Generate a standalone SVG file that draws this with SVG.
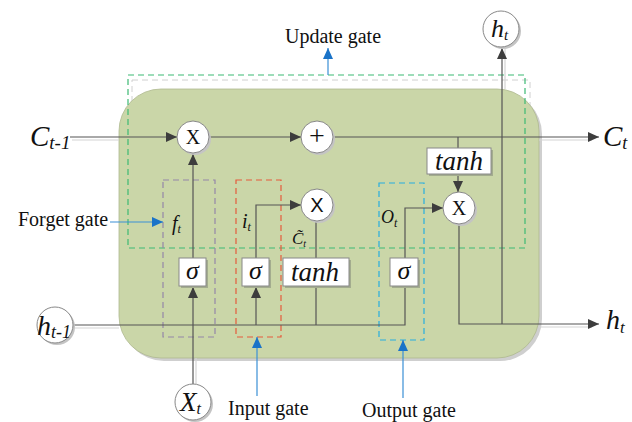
<svg xmlns="http://www.w3.org/2000/svg" width="632" height="422" viewBox="0 0 632 422">
<defs>
<marker id="ah" markerUnits="userSpaceOnUse" markerWidth="11" markerHeight="10" refX="11" refY="5" orient="auto"><path d="M0,0 L11,5 L0,10 z" fill="#3d3d3d"/></marker>
<marker id="bh" markerUnits="userSpaceOnUse" markerWidth="11" markerHeight="10" refX="11" refY="5" orient="auto"><path d="M0,0 L11,5 L0,10 z" fill="#1a73c8"/></marker>
<style>
.ln{fill:none;stroke:#555;stroke-width:1.2}
.sh{fill:none;stroke:#d4d4d4;stroke-width:1.2}
.bl{fill:none;stroke:#3a8fd6;stroke-width:1.2}
.lbl{font-family:"Liberation Serif",serif;font-size:20px;fill:#111}
.it{font-family:"Liberation Serif",serif;font-style:italic;fill:#111}
.cir{fill:#fff;stroke:#888;stroke-width:1}
.csh{fill:#c4c4c4}
.box{fill:#fff;stroke:#888;stroke-width:1}
.bsh{fill:#a3ac8e}
.op{font-family:"Liberation Serif",serif;fill:#111;text-anchor:middle}
</style>
</defs>
<rect width="632" height="422" fill="#fff"/>
<!-- shadow of update-gate box -->
<rect x="132" y="80" width="398" height="173" fill="none" stroke="#d0d0d0" stroke-width="1" stroke-dasharray="6,4"/>
<!-- cell body -->
<g id="cell">
<rect x="122" y="92" width="420" height="269" rx="42" fill="#cfcfcf"/>
<rect x="119" y="89" width="420" height="269" rx="42" fill="#cad6a8" stroke="#aeb98f" stroke-width="0.8"/>
</g>
<!-- gate boxes -->
<g id="update-gate-box"><rect x="128" y="75" width="397" height="173" fill="none" stroke="#3dba74" stroke-width="1.2" stroke-dasharray="6,4"/></g>
<g id="forget-gate-box"><rect x="163" y="180" width="52" height="157" fill="none" stroke="#9486a8" stroke-width="1.2" stroke-dasharray="6,4"/></g>
<g id="input-gate-box"><rect x="236" y="180" width="45" height="157" fill="none" stroke="#e55a3c" stroke-width="1.2" stroke-dasharray="6,4"/></g>
<g id="output-gate-box"><rect x="379" y="183" width="45" height="157" fill="none" stroke="#27aee0" stroke-width="1.2" stroke-dasharray="6,4"/></g>

<g id="connectors">
<line class="sh" x1="72" y1="140" x2="119" y2="140"/>
<line class="sh" x1="539" y1="140" x2="592" y2="140"/>
<line class="sh" x1="73" y1="328" x2="119" y2="328"/>
<line class="sh" x1="539" y1="327" x2="592" y2="327"/>
<line class="sh" x1="196" y1="358" x2="196" y2="384"/>
<line class="sh" x1="505" y1="48" x2="505" y2="89"/>
<line class="ln" x1="70" y1="137" x2="177" y2="137" marker-end="url(#ah)"/>
<line class="ln" x1="209" y1="137" x2="301" y2="137" marker-end="url(#ah)"/>
<line class="ln" x1="333" y1="137" x2="599" y2="137" marker-end="url(#ah)"/>
<line class="ln" x1="458" y1="137" x2="458" y2="148"/>
<line class="ln" x1="458" y1="174" x2="458" y2="192" marker-end="url(#ah)"/>
<polyline class="ln" points="459,224 459,324 599,324" marker-end="url(#ah)"/>
<line class="ln" x1="502" y1="324" x2="502" y2="48" marker-end="url(#ah)"/>
<polyline class="ln" points="73,325 405,325 405,286"/>
<line class="ln" x1="193" y1="384" x2="193" y2="287" marker-end="url(#ah)"/>
<line class="ln" x1="193" y1="258" x2="193" y2="154" marker-end="url(#ah)"/>
<line class="ln" x1="256" y1="325" x2="256" y2="287" marker-end="url(#ah)"/>
<polyline class="ln" points="256,258 256,205 301,205" marker-end="url(#ah)"/>
<line class="ln" x1="316" y1="325" x2="316" y2="286"/>
<line class="ln" x1="316" y1="258" x2="316" y2="221"/>
<polyline class="ln" points="405,258 405,208 443,208" marker-end="url(#ah)"/>
<line class="bl" x1="328" y1="75" x2="328" y2="48" marker-end="url(#bh)"/>
<line class="bl" x1="110" y1="222" x2="163" y2="222" marker-end="url(#bh)"/>
<line class="bl" x1="257" y1="396" x2="257" y2="337" marker-end="url(#bh)"/>
<line class="bl" x1="403" y1="398" x2="403" y2="340" marker-end="url(#bh)"/>
</g>

<g id="mul-forget"><circle class="csh" cx="195" cy="139" r="16"/><circle class="cir" cx="193" cy="137" r="16"/><text class="op" x="193" y="144" style="font-size:20px">X</text></g>
<g id="add"><circle class="csh" cx="319" cy="139" r="16"/><circle class="cir" cx="317" cy="137" r="16"/><text class="op" x="317" y="145" style="font-size:28px">+</text></g>
<g id="mul-input"><circle class="csh" cx="319" cy="207" r="16"/><circle class="cir" cx="317" cy="205" r="16"/><text class="op" x="317" y="212" style="font-size:20px;font-family:'Liberation Sans',sans-serif">X</text></g>
<g id="mul-output"><circle class="csh" cx="461" cy="210" r="16"/><circle class="cir" cx="459" cy="208" r="16"/><text class="op" x="459" y="215" style="font-size:20px">X</text></g>

<g id="sigma-forget"><rect class="bsh" x="181" y="260" width="27" height="28"/><rect class="box" x="179" y="258" width="27" height="28"/><text class="it" x="192.5" y="279" font-size="26" text-anchor="middle">σ</text></g>
<g id="sigma-input"><rect class="bsh" x="244" y="260" width="27" height="28"/><rect class="box" x="242" y="258" width="27" height="28"/><text class="it" x="255.5" y="279" font-size="26" text-anchor="middle">σ</text></g>
<g id="tanh-input"><rect class="bsh" x="285" y="260" width="66" height="28"/><rect class="box" x="283" y="258" width="66" height="28"/><text class="it" x="315" y="281" font-size="27" text-anchor="middle">tanh</text></g>
<g id="sigma-output"><rect class="bsh" x="392" y="260" width="28" height="28"/><rect class="box" x="390" y="258" width="28" height="28"/><text class="it" x="404" y="279" font-size="26" text-anchor="middle">σ</text></g>
<g id="tanh-cell"><rect class="bsh" x="429" y="150" width="64" height="26"/><rect class="box" x="427" y="148" width="64" height="26"/><text class="it" x="459" y="170" font-size="27" text-anchor="middle">tanh</text></g>

<g id="f-label"><text class="it" x="172" y="230" font-size="20">f<tspan font-size="12" dy="3">t</tspan></text></g>
<g id="i-label"><text class="it" x="242" y="228" font-size="20">i<tspan font-size="12" dy="3">t</tspan></text></g>
<g id="c-tilde-label"><text class="it" x="292" y="244" font-size="17">C̃<tspan font-size="10" dy="3">t</tspan></text></g>
<g id="o-label"><text class="it" x="381" y="223" font-size="18">O<tspan font-size="12" dy="4">t</tspan></text></g>

<g id="c-prev"><text class="it" x="30" y="146" font-size="29">C<tspan font-size="19" dy="3">t-1</tspan></text></g>
<g id="c-next"><text class="it" x="603" y="146" font-size="29">C<tspan font-size="18" dy="3">t</tspan></text></g>
<g id="h-next-right"><text class="it" x="606" y="329" font-size="28">h<tspan font-size="17" dy="4">t</tspan></text></g>
<g id="h-prev"><circle class="csh" cx="57" cy="327" r="18"/><circle class="cir" cx="55" cy="325" r="18"/><text class="it" x="37" y="335" font-size="28">h<tspan font-size="18" dy="3">t-1</tspan></text></g>
<g id="x-input"><circle class="csh" cx="195" cy="404" r="18"/><circle class="cir" cx="193" cy="402" r="18"/><text class="it" x="180" y="411" font-size="27">X<tspan font-size="16" dy="3">t</tspan></text></g>
<g id="h-next-top"><circle class="csh" cx="503" cy="31" r="18"/><circle class="cir" cx="501" cy="29" r="18"/><text class="it" x="491" y="37" font-size="26">h<tspan font-size="15" dy="3">t</tspan></text></g>

<g id="update-gate-label"><text class="lbl" x="333" y="43" text-anchor="middle">Update gate</text></g>
<g id="forget-gate-label"><text class="lbl" x="18" y="226">Forget gate</text></g>
<g id="input-gate-label"><text class="lbl" x="228" y="415">Input gate</text></g>
<g id="output-gate-label"><text class="lbl" x="362" y="417">Output gate</text></g>
</svg>
